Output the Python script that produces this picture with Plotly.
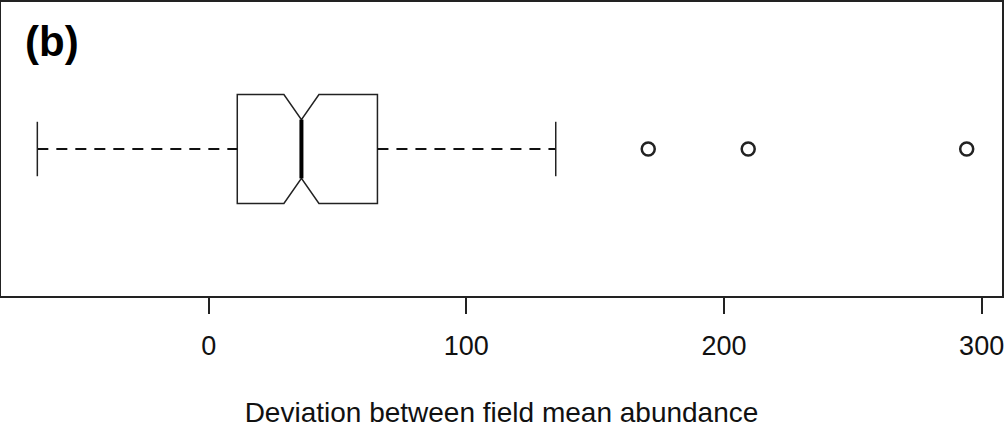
#!/usr/bin/env python3
"""
Notched horizontal box plot, panel (b):
deviation between field mean abundance.
"""

import plotly.graph_objects as go

# Box statistics
q1 = [11.1]
median = [36.0]
q3 = [65.5]
notch_half = [6.8]
lower_whisker = [-66.5]
upper_whisker = [134.7]
outliers = [170.6, 209.4, 294.2]

tick_vals = [0, 100, 200, 300]
tick_text = ['0', '100', '200', '300']

INK = '#222222'
FONT = 'Liberation Sans, Arial, sans-serif'
BOX_W = 0.4      # box height in y units
CAP_H = 0.1      # half height of whisker caps
WAIST_H = 0.108  # half height of notch waist

fig = go.Figure()

# notched box (quartiles + median), whiskers drawn separately
fig.add_trace(go.Box(
    y=[0],
    q1=q1,
    median=median,
    q3=q3,
    lowerfence=q1,
    upperfence=q3,
    notchspan=notch_half,
    notched=True,
    notchwidth=0.23,
    orientation='h',
    width=BOX_W,
    whiskerwidth=0,
    boxpoints=False,
    fillcolor='white',
    line=dict(color=INK, width=1.5),
    hoverinfo='skip',
    showlegend=False,
))

# thick median line across the waist
fig.add_trace(go.Scatter(
    x=[median[0], median[0]],
    y=[-WAIST_H, WAIST_H],
    mode='lines',
    line=dict(color='black', width=4),
    hoverinfo='skip',
    showlegend=False,
))

# dashed whiskers
for a, b in [(lower_whisker[0], q1[0]), (q3[0], upper_whisker[0])]:
    fig.add_trace(go.Scatter(
        x=[a, b],
        y=[0, 0],
        mode='lines',
        line=dict(color='#111111', width=1.8, dash='11px,8px'),
        hoverinfo='skip',
        showlegend=False,
    ))

# whisker caps
for w in [lower_whisker[0], upper_whisker[0]]:
    fig.add_trace(go.Scatter(
        x=[w, w],
        y=[-CAP_H, CAP_H],
        mode='lines',
        line=dict(color=INK, width=1.5),
        hoverinfo='skip',
        showlegend=False,
    ))

# outliers
fig.add_trace(go.Scatter(
    x=outliers,
    y=[0] * len(outliers),
    mode='markers',
    marker=dict(symbol='circle-open', size=13, color=INK,
                line=dict(color=INK, width=2.5)),
    hovertemplate='%{x:.1f}<extra></extra>',
    showlegend=False,
))

fig.add_annotation(
    text='<b>(b)</b>',
    xref='paper', yref='paper',
    x=0.0215, y=0.866,
    xanchor='left', yanchor='middle',
    showarrow=False,
    font=dict(family=FONT, size=42, color='black'),
)

fig.update_layout(
    width=1004,
    height=432,
    margin=dict(l=1, r=2, t=2, b=136, pad=0),
    paper_bgcolor='white',
    plot_bgcolor='white',
    font=dict(family=FONT, size=27, color='black'),
    xaxis=dict(
        range=[-80.6, 307.9],
        tickvals=tick_vals,
        ticktext=tick_text,
        ticks='outside',
        ticklen=16,
        tickwidth=1.5,
        tickcolor=INK,
        ticklabelstandoff=9,
        ticklabeloverflow='allow',
        automargin=False,
        showgrid=False,
        zeroline=False,
        showline=True,
        mirror=True,
        linecolor=INK,
        linewidth=2,
        tickfont=dict(family=FONT, size=27, color='#111111'),
        title=dict(text='Deviation between field mean abundance',
                   font=dict(family=FONT, size=28, color='#111111'),
                   standoff=42),
    ),
    yaxis=dict(
        range=[-0.54, 0.54],
        showticklabels=False,
        ticks='',
        showgrid=False,
        zeroline=False,
        showline=True,
        mirror=True,
        linecolor=INK,
        linewidth=2,
    ),
)

# page body margin would shift the fixed-size figure
fig.write_html('out.html',
               config={'displayModeBar': False},
               post_script="document.body.style.margin='0';"
                           "document.body.style.overflow='hidden';")
